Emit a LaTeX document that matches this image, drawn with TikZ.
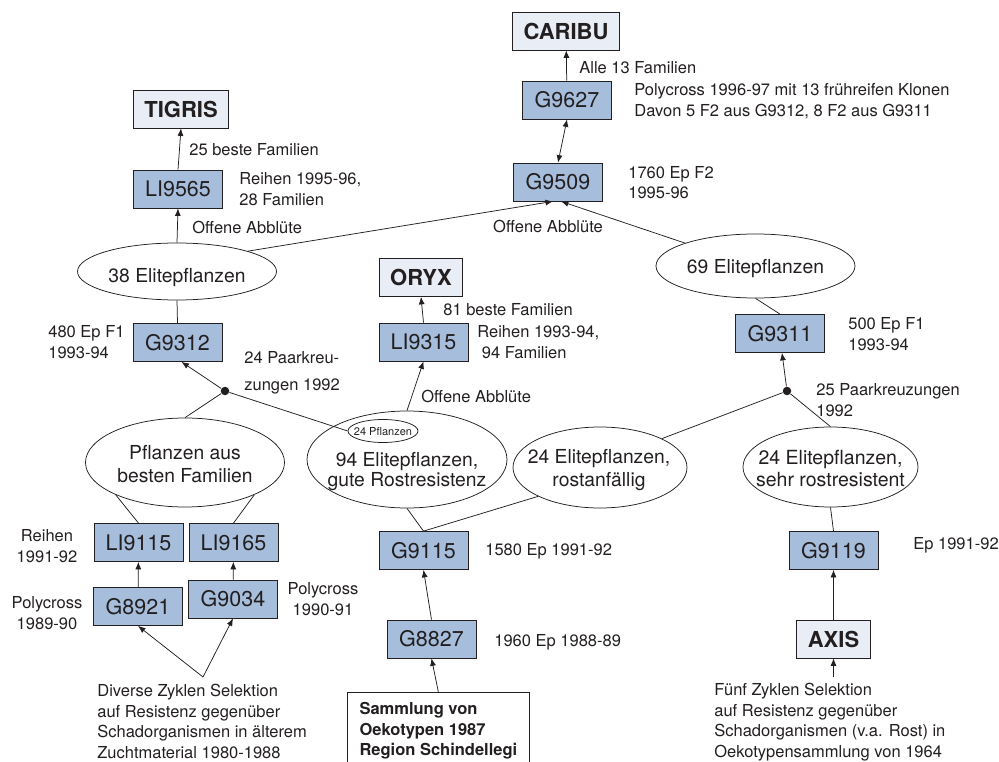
\documentclass[tikz,border=0pt]{standalone}
\usepackage{fontspec}
\setmainfont{TeX Gyre Heros}
\usetikzlibrary{arrows.meta}
\usetikzlibrary{shapes.geometric}
\definecolor{zuchtblau}{RGB}{166,190,220}
\definecolor{sortehell}{RGB}{232,237,246}
\definecolor{tinte}{RGB}{35,31,32}
\begin{document}
\begin{tikzpicture}[x=1pt,y=-1pt,>={Latex[length=7.5pt,width=6pt]},auto,color=tinte,line width=0.75pt]
		\tikzstyle{zuchtbox}=[rectangle,draw,fill=zuchtblau,minimum width=89pt,minimum height=38pt,
			inner sep=0pt,font=\fontsize{21.5}{24}\selectfont];
		\tikzstyle{sortebox}=[rectangle,draw,fill=sortehell,minimum height=38pt,inner xsep=11pt,
			inner ysep=0pt,font=\fontsize{22}{24}\selectfont\bfseries];
		\tikzstyle{gruppe}=[ellipse,draw,inner sep=0pt];
		\tikzstyle{gruppentext}=[align=center,inner sep=0pt,font=\fontsize{19.3}{22.5}\selectfont];
		\tikzstyle{notiz}=[align=left,anchor=west,inner sep=0pt,font=\fontsize{16.5}{20.5}\selectfont];
		\tikzstyle{knoten}=[circle,fill,inner sep=0pt,minimum size=8.5pt];
		\useasboundingbox (0,0) rectangle (999,762);

		\node[sortebox](caribu) at (566,31){CARIBU};
		\node[zuchtbox](g9627) at (567,100){G9627} edge[->](caribu);
		\node[zuchtbox](g9509) at (558,182){G9509};
		\draw[<->](g9627.south)--(g9509.north);
		\node[notiz](n_alle) at (579,68){Alle 13 Familien};
		\node[notiz](n_poly96) at (634,101){Polycross 1996-97 mit 13 frühreifen Klonen\\Davon 5 F2 aus G9312, 8 F2 aus G9311};
		\node[notiz](n_g9509) at (628,182.5){1760 Ep F2\\1995-96};
		\node[notiz,anchor=center](n_off1) at (548,226){Offene Abblüte};

		\node[sortebox](tigris) at (181,109){TIGRIS};
		\node[zuchtbox](li9565) at (178,189){LI9565};
		\draw[->](li9565.north)--(tigris.south);
		\node[notiz](n_beste25) at (189,150){25 beste Familien};
		\node[notiz](n_li9565) at (239,189){Reihen 1995-96,\\28 Familien};
		\node[notiz](n_off2) at (192,227){Offene Abblüte};

		\node[gruppe,minimum width=199pt,minimum height=57pt](elite38) at (177,271.5){};
		\node[gruppentext](t_elite38) at (177,277.5){38 Elitepflanzen};
		\draw[->](elite38.north)--(li9565.south);
		\draw[->](elite38.16)--([xshift=-5pt]g9509.south);
		\node[zuchtbox](g9312) at (177.5,342.5){G9312};
		\draw(elite38.south)--(g9312.north);
		\node[notiz](n_g9312) at (48,342){480 Ep F1\\1993-94};

		\node[gruppe,minimum width=199pt,minimum height=64pt](elite69) at (755.5,266){};
		\node[gruppentext](t_elite69) at (755.5,269){69 Elitepflanzen};
		\draw[->](elite69.162)--([xshift=3pt]g9509.south);
		\node[zuchtbox](g9311) at (780,333.5){G9311};
		\draw(elite69.south)--(g9311.north);
		\node[notiz](n_g9311) at (848,334){500 Ep F1\\1993-94};

		\node[sortebox](oryx) at (421,277.5){ORYX};
		\node[zuchtbox](li9315) at (423.5,342){LI9315};
		\draw[->](li9315.north)--(oryx.south);
		\node[notiz](n_beste81) at (443,310){81 beste Familien};
		\node[notiz](n_li9315) at (477,342){Reihen 1993-94,\\\hspace*{4.5pt}94 Familien};
		\node[notiz](n_off3) at (421,396){Offene Abblüte};

		\node[gruppe,minimum width=199pt,minimum height=89pt](pflanzen) at (185,462.5){};
		\node[gruppentext](t_pflanzen) at (185,464){Pflanzen aus\\besten Familien};
		\node[gruppe,minimum width=200pt,minimum height=97pt](elite94) at (407,459.5){};
		\node[gruppentext,font=\fontsize{19.3}{19.5}\selectfont](t_elite94) at (407,471.5){94 Elitepflanzen,\\gute Rostresistenz};
		\node[gruppe,minimum width=70pt,minimum height=23pt](pfl24) at (383,431){};
		\node[inner sep=0pt,font=\fontsize{11}{13}\selectfont](t_pfl24) at (383,431.5){24 Pflanzen};
		\node[gruppe,minimum width=174pt,minimum height=81pt](rost) at (600,467.5){};
		\node[gruppentext](t_rost) at (599,470){24 Elitepflanzen,\\rostanfällig};
		\node[gruppe,minimum width=175pt,minimum height=80pt](sehr) at (830.5,467){};
		\node[gruppentext,font=\fontsize{19.5}{22}\selectfont](t_sehr) at (830.5,469){24 Elitepflanzen,\\sehr rostresistent};

		\node[knoten](dotL) at (225,391){};
		\draw[->](dotL)--([xshift=4pt]g9312.south);
		\draw(dotL)--(pflanzen.north);
		\draw(dotL)--(pfl24.west);
		\node[notiz](n_paar24) at (244,373){24 Paarkreu-\\[7pt]zungen 1992};
		\draw[->](elite94.north)--(li9315.south);

		\node[knoten](dotR) at (787,391){};
		\draw[->](dotR)--([xshift=2pt]g9311.south);
		\draw(dotR)--(sehr.north);
		\draw(rost.25)--(dotR);
		\node[notiz](n_paar25) at (816,400){25 Paarkreuzungen\\1992};

		\node[zuchtbox](li9115) at (138.5,542.5){LI9115};
		\node[zuchtbox](li9165) at (233.5,542.5){LI9165};
		\draw(pflanzen.205)--(li9115.north);
		\draw(pflanzen.335)--(li9165.north);
		\node[zuchtbox](g8921) at (138,606.5){G8921} edge[->](li9115);
		\node[zuchtbox](g9034) at (233,599){G9034} edge[->](li9165);
		\coordinate(quelleL) at (203,677);
		\draw[->](quelleL)--(g8921.south);
		\draw[->](quelleL)--(g9034.south);
		\node[notiz,align=center,anchor=center](n_reihen) at (47,546){Reihen\\1991-92};
		\node[notiz,align=center,anchor=center](n_poly89) at (47,613){Polycross\\1989-90};
		\node[notiz,align=center,anchor=center](n_poly90) at (323,599){Polycross\\1990-91};
		\node[notiz](n_diverse) at (97,721.5){Diverse Zyklen Selektion\\auf Resistenz gegenüber\\Schadorganismen in älterem\\Zuchtmaterial 1980-1988};

		\node[zuchtbox](g9115) at (423.5,550.5){G9115};
		\draw(elite94.south)--(g9115.north);
		\draw(rost.205)--(g9115.north);
		\node[zuchtbox](g8827) at (431.5,639){G8827};
		\draw[->](g8827.north)--(g9115.south);
		\node[rectangle,draw,fill=white,anchor=north west,minimum width=182pt,inner xsep=11pt,inner ysep=10pt,
			align=left,font=\fontsize{16.5}{20.5}\selectfont\bfseries](sammlung) at (347,692){Sammlung von\\Oekotypen 1987\\Region Schindellegi};
		\draw[->](sammlung.north)--(g8827.south);
		\node[notiz](n_g9115) at (485,551){1580 Ep 1991-92};
		\node[notiz](n_g8827) at (494,642){1960 Ep 1988-89};

		\node[zuchtbox](g9119) at (833.5,550.5){G9119};
		\draw(sehr.south)--(g9119.north);
		\node[sortebox](axis) at (833.5,639){AXIS} edge[->](g9119);
		\coordinate(quelleR) at (833.5,677);
		\draw[->](quelleR)--(axis.south);
		\node[notiz](n_g9119) at (913,545){Ep 1991-92};
		\node[notiz](n_fuenf) at (714,722){Fünf Zyklen Selektion\\auf Resistenz gegenüber\\Schadorganismen (v.a. Rost) in\\Oekotypensammlung von 1964};
	\end{tikzpicture}
\end{document}
